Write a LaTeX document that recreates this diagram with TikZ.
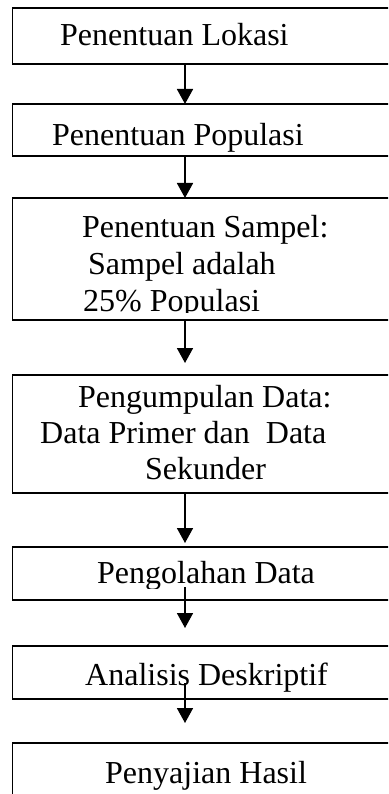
\documentclass[tikz,border=0pt]{standalone}
\usepackage{fontspec}
\setmainfont{Liberation Serif}
\usetikzlibrary{arrows.meta,calc}

\begin{document}
\begin{tikzpicture}[x=1pt,y=-1pt]
	\tikzset{box/.style={draw,line width=1.5pt,anchor=north west,minimum width=420pt,inner sep=0pt,outer sep=0pt}}
	\tikzset{txt/.style={anchor=base west,inner sep=0pt,font=\fontsize{32}{37}\selectfont}}
	\tikzset{arr/.style={line width=1.7pt,-{Triangle[length=15pt,width=16pt]}}}
	\useasboundingbox (0,0) rectangle (388,794);
	\clip (0,0) rectangle (388,794);
	\coordinate (ax) at (185,0);
	% texts (descenders cut as in the text boxes)
	\node[txt] (tlokasi) at (60,45.7) {Penentuan Lokasi};
	\node[txt] (tpopulasi) at (52,146) {Penentuan Populasi};
	\begin{scope}
		\clip (14,200) rectangle (386,312);
		\node[txt] (tsampel1) at (82,237) {Penentuan Sampel:};
		\node[txt] (tsampel2) at (88,274) {Sampel adalah};
		\node[txt] (tsampel3) at (83,311) {25\% Populasi};
	\end{scope}
	\node[txt] (tkumpul1) at (78,407) {Pengumpulan Data:};
	\node[txt] (tkumpul2) at (40,443) {Data Primer dan\ \ Data};
	\node[txt] (tkumpul3) at (145,479) {Sekunder};
	\begin{scope}
		\clip (14,549) rectangle (386,588);
		\node[txt] (tolah) at (97,583) {Pengolahan Data};
	\end{scope}
	\node[txt] (tanalisis) at (85,685) {Analisis Deskriptif};
	\node[txt] (tsaji) at (105,783) {Penyajian Hasil};
	% boxes
	\node[box,minimum height=56pt] (lokasi) at (12.5,8) {};
	\node[box,minimum height=52pt] (populasi) at (12.5,104) {};
	\node[box,minimum height=122pt] (sampel) at (12.5,198) {};
	\node[box,minimum height=118pt] (kumpul) at (12.5,375) {};
	\node[box,minimum height=53pt] (olah) at (12.5,547) {};
	\node[box,minimum height=53pt] (analisis) at (12.5,646) {};
	\node[box,minimum height=60pt] (saji) at (12.5,743) {};
	% arrows
	\draw[arr] (lokasi.south -| ax) -- (populasi.north -| ax);
	\draw[arr] (populasi.south -| ax) -- (sampel.north -| ax);
	\draw[arr] (sampel.south -| ax) -- ($(kumpul.north -| ax)+(0,-12)$);
	\draw[arr] (kumpul.south -| ax) -- ($(olah.north -| ax)+(0,-4)$);
	\draw[arr] ($(olah.south -| ax)+(0,-13)$) -- ($(analisis.north -| ax)+(0,-18)$);
	\draw[arr] ($(analisis.south -| ax)+(0,-16)$) -- ($(saji.north -| ax)+(0,-20)$);
\end{tikzpicture}
\end{document}
